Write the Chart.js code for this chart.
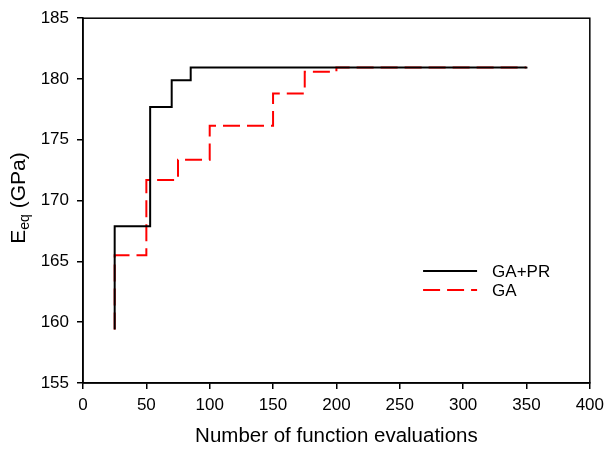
<!DOCTYPE html>
<html>
<head>
<meta charset="utf-8">
<script src="https://cdn.jsdelivr.net/npm/chart.js@4.4.0/dist/chart.umd.min.js"></script>
<style>
    html, body { margin: 0; padding: 0; background: #fff; }
    #wrap { width: 610px; height: 449px; position: relative; }
</style>
</head>
<body>
<div id="wrap"><canvas id="chart" width="610" height="449"></canvas></div>
<script>
// Data (step-before: the curve jumps up at x to the new value)
const gaprX = [25, 25, 53, 70, 85, 350];
const gaprY = [159.4, 167.9, 177.7, 179.9, 180.95, 181.0];
const gaX = [25, 25, 50, 75, 100, 150, 175, 200, 350];
const gaY = [159.4, 165.5, 171.7, 173.35, 176.15, 178.8, 180.6, 180.95, 180.95];
const xTicks = [0, 50, 100, 150, 200, 250, 300, 350, 400];
const yTicks = [155, 160, 165, 170, 175, 180, 185];
const seriesNames = ['GA+PR', 'GA'];

const FONT = '"Liberation Sans", Arial, sans-serif';

function toPoints(xs, ys) {
    return xs.map((x, i) => ({ x: x, y: ys[i] }));
}

// Box round the plot, inner legend and the y title with subscript
const extrasPlugin = {
    id: 'extras',
    afterDraw(chart) {
        const ctx = chart.ctx;
        const a = chart.chartArea;
        ctx.save();
        ctx.strokeStyle = '#000';
        ctx.lineWidth = 1.5;
        ctx.strokeRect(a.left, a.top, a.right - a.left, a.bottom - a.top);

        // legend
        const lx = a.left + (a.right - a.left) * 0.671;
        const items = [
            { y: 271, color: '#000', dash: [] },
            { y: 290, color: '#ff0000', dash: [17, 7] }
        ];
        ctx.font = '17px ' + FONT;
        ctx.textBaseline = 'middle';
        items.forEach((it, i) => {
            ctx.beginPath();
            ctx.setLineDash(it.dash);
            ctx.strokeStyle = it.color;
            ctx.lineWidth = 2;
            ctx.moveTo(lx, it.y);
            ctx.lineTo(lx + 54, it.y);
            ctx.stroke();
            ctx.setLineDash([]);
            ctx.fillStyle = '#000';
            ctx.fillText(seriesNames[i], lx + 69, it.y + 1);
        });

        // y title: E_eq (GPa)
        ctx.translate(25, 198);
        ctx.rotate(-Math.PI / 2);
        ctx.fillStyle = '#000';
        ctx.textBaseline = 'alphabetic';
        const big = '21px ' + FONT;
        const small = '14px ' + FONT;
        ctx.font = big;
        const wE = ctx.measureText('E').width;
        const wRest = ctx.measureText(' (GPa)').width;
        ctx.font = small;
        const wSub = ctx.measureText('eq').width;
        let x = -(wE + wSub + wRest) / 2;
        ctx.font = big;
        ctx.fillText('E', x, 0);
        x += wE;
        ctx.font = small;
        ctx.fillText('eq', x, 4);
        x += wSub;
        ctx.font = big;
        ctx.fillText(' (GPa)', x, 0);
        ctx.restore();
    }
};

const ctx = document.getElementById('chart').getContext('2d');
const chart = new Chart(ctx, {
    type: 'line',
    data: {
        datasets: [
            {
                label: seriesNames[0],
                data: toPoints(gaprX, gaprY),
                borderColor: '#000',
                borderWidth: 2,
                stepped: 'before',
                pointRadius: 0,
                fill: false
            },
            {
                label: seriesNames[1],
                data: toPoints(gaX, gaY),
                borderColor: '#ff0000',
                borderWidth: 2,
                borderDash: [17, 7],
                stepped: 'before',
                pointRadius: 0,
                fill: false
            }
        ]
    },
    options: {
        responsive: false,
        animation: false,
        layout: { padding: { left: 0, right: 18, top: 16, bottom: 0 } },
        plugins: {
            legend: { display: false },
            tooltip: { enabled: false }
        },
        scales: {
            x: {
                type: 'linear',
                min: xTicks[0],
                max: xTicks[xTicks.length - 1],
                afterBuildTicks: s => { s.ticks = xTicks.map(v => ({ value: v })); },
                afterFit: s => { s.height = 66; },
                grid: {
                    drawOnChartArea: false,
                    drawTicks: true,
                    tickLength: 6,
                    color: '#000',
                    lineWidth: 1.5
                },
                border: { color: '#000', width: 1.5 },
                ticks: {
                    color: '#000',
                    padding: 6,
                    maxRotation: 0,
                    font: { family: FONT, size: 17 }
                },
                title: {
                    display: true,
                    text: 'Number of function evaluations',
                    color: '#000',
                    font: { family: FONT, size: 20.5 },
                    padding: { top: 3, bottom: 0 }
                }
            },
            y: {
                type: 'linear',
                min: yTicks[0],
                max: yTicks[yTicks.length - 1],
                afterBuildTicks: s => { s.ticks = yTicks.map(v => ({ value: v })); },
                afterFit: s => { s.width = 83; },
                grid: {
                    drawOnChartArea: false,
                    drawTicks: true,
                    tickLength: 6,
                    color: '#000',
                    lineWidth: 1.5
                },
                border: { color: '#000', width: 1.5 },
                ticks: {
                    color: '#000',
                    padding: 8,
                    font: { family: FONT, size: 17 }
                }
            }
        }
    },
    plugins: [extrasPlugin]
});
</script>
</body>
</html>
